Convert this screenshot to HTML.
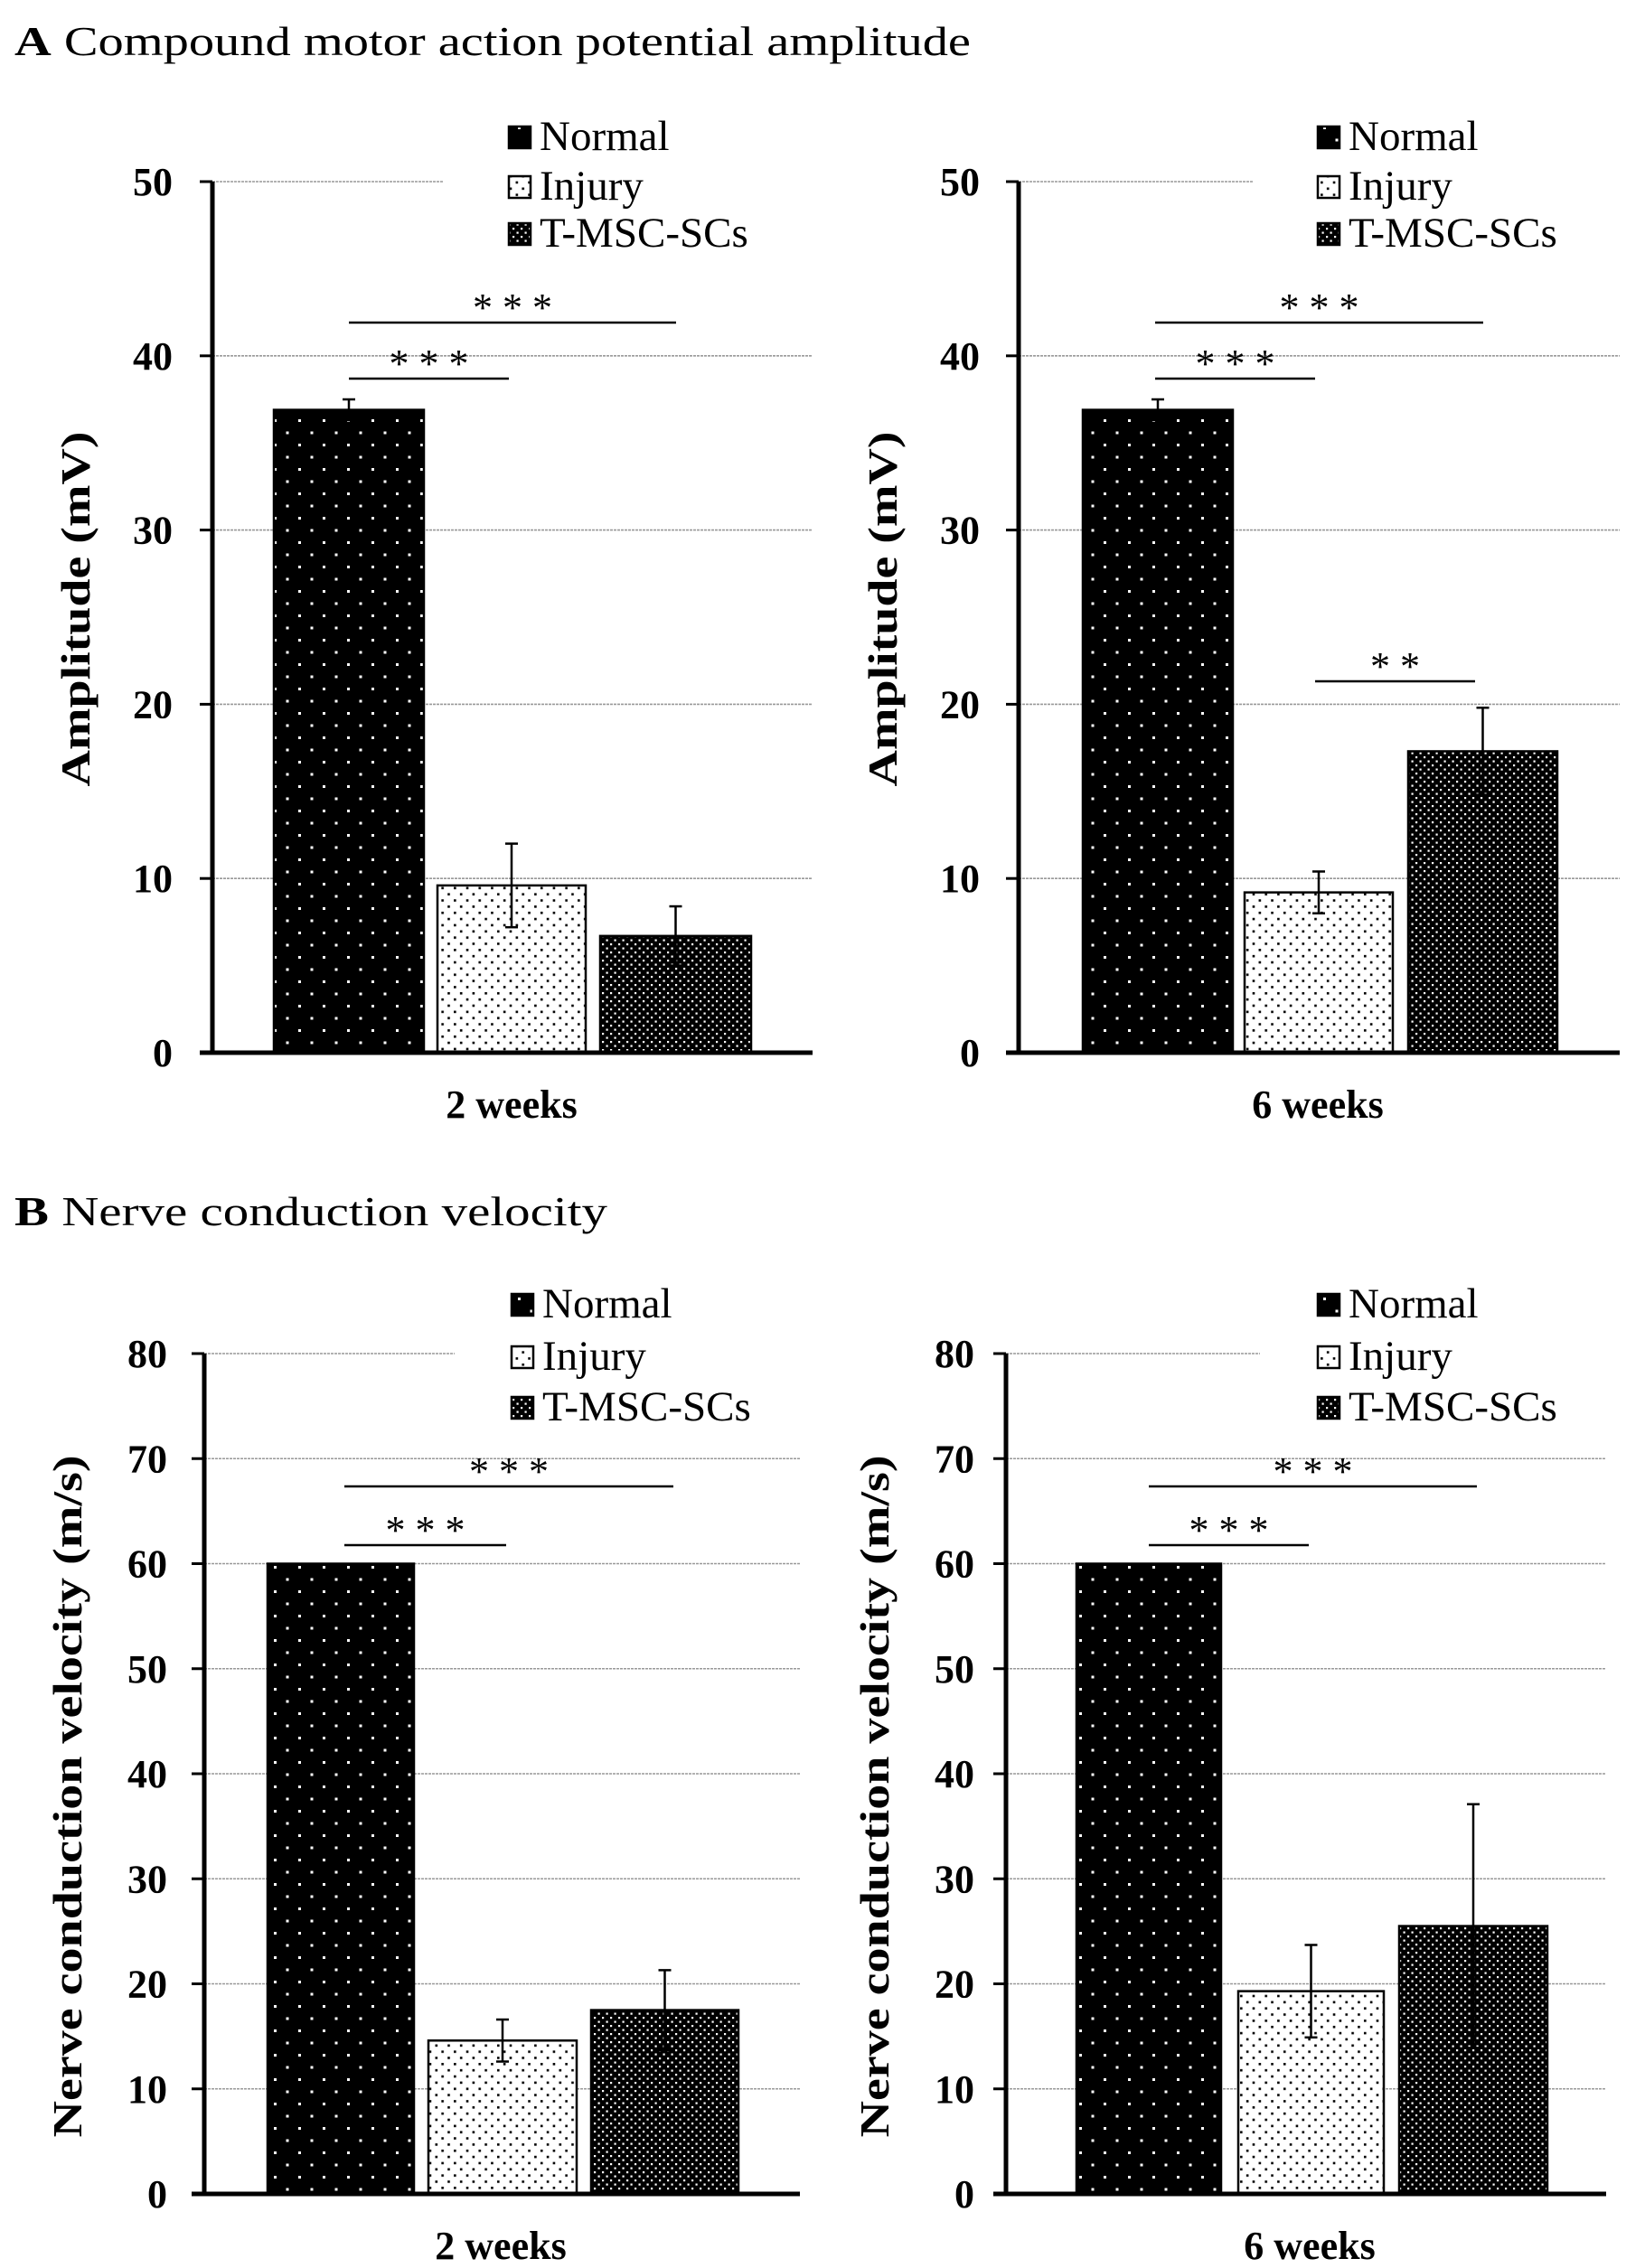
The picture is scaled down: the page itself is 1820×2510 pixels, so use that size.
<!DOCTYPE html>
<html><head><meta charset="utf-8"><style>
html,body{margin:0;padding:0;background:#fff;}
svg{display:block;}
text{font-family:"Liberation Serif","Times New Roman",Times,serif;fill:#000;}
</style></head><body>
<svg id="fig" width="1820" height="2510" viewBox="0 0 1820 2510" xmlns="http://www.w3.org/2000/svg">
<defs>
<pattern id="pNormal" width="27" height="27" patternUnits="userSpaceOnUse"><rect width="27" height="27" fill="#000"/><rect x="6" y="5" width="3" height="3" fill="#fff"/><rect x="19.5" y="18.5" width="3" height="3" fill="#fff"/></pattern>
<pattern id="pInjury" width="13.7" height="13.7" patternUnits="userSpaceOnUse"><rect width="13.7" height="13.7" fill="#fff"/><rect x="2" y="2" width="2.6" height="2.6" fill="#000"/><rect x="8.85" y="8.85" width="2.6" height="2.6" fill="#000"/></pattern>
<pattern id="pTmsc" width="9" height="9" patternUnits="userSpaceOnUse"><rect width="9" height="9" fill="#000"/><rect x="0" y="0" width="2.2" height="2.2" fill="#fff"/><rect x="4.5" y="4.5" width="2.2" height="2.2" fill="#fff"/></pattern>
</defs>
<text x="16" y="61" font-size="46" font-family="Liberation Serif, Times New Roman, serif" textLength="1058" lengthAdjust="spacingAndGlyphs"><tspan font-weight="bold">A</tspan>  Compound motor action potential amplitude</text>
<text x="16" y="1356" font-size="46" font-family="Liberation Serif, Times New Roman, serif" textLength="656" lengthAdjust="spacingAndGlyphs"><tspan font-weight="bold">B</tspan>  Nerve conduction velocity</text>
</svg>
<script>
const groups = ["Normal", "Injury", "T-MSC-SCs"];
const ampTicks = [0, 10, 20, 30, 40, 50];
const ncvTicks = [0, 10, 20, 30, 40, 50, 60, 70, 80];
const amp2wMeans = [36.9, 9.6, 6.7];
const amp2wErrs = [0.6, 2.4, 1.7];
const amp6wMeans = [36.9, 9.2, 17.3];
const amp6wErrs = [0.6, 1.2, 2.5];
const ncv2wMeans = [60.0, 14.6, 17.5];
const ncv2wErrs = [0, 2.0, 3.8];
const ncv6wMeans = [60.0, 19.3, 25.5];
const ncv6wErrs = [0, 4.4, 11.6];
const amp2wSig = [[0, 1, "* * *"], [0, 2, "* * *"]];
const amp6wSig = [[0, 1, "* * *"], [0, 2, "* * *"], [1, 2, "* *"]];
const ncv2wSig = [[0, 1, "* * *"], [0, 2, "* * *"]];
const ncv6wSig = [[0, 1, "* * *"], [0, 2, "* * *"]];

const NS = "http://www.w3.org/2000/svg";
const FONT = "Liberation Serif, Times New Roman, serif";
const svg = document.getElementById('fig');
const fills = ["url(#pNormal)", "url(#pInjury)", "url(#pTmsc)"];
function mk(tag, attrs, parent, txt) {
  const e = document.createElementNS(NS, tag);
  for (const k in attrs) e.setAttribute(k, attrs[k]);
  if (tag === 'text') e.setAttribute('font-family', FONT);
  if (txt !== undefined) e.textContent = txt;
  parent.appendChild(e);
  return e;
}
function chart(c, means, errs, ticks, sig) {
  const g = mk('g', {}, svg);
  
  
  const max = ticks[ticks.length - 1];
  const y = v => c.y0 - (v / max) * (c.y0 - c.yTop);
  ticks.forEach((t, i) => {
    if (t === 0) return;
    const end = (i === ticks.length - 1) ? c.topGridEnd : c.xEnd;
    const l = mk('line', {x1: c.ax, x2: end, y1: y(t), y2: y(t), stroke: '#999', 'stroke-width': 1.6, 'stroke-dasharray': '3 1'}, g);
    
    
  });
  means.forEach((m, i) => {
    const r = mk('rect', {x: c.bars[i][0], y: y(m), width: c.bars[i][1] - c.bars[i][0], height: c.y0 - y(m), fill: fills[i], stroke: '#000', 'stroke-width': 2.5}, g);
    
    
    if (errs[i] > 0) {
      const cx = (c.bars[i][0] + c.bars[i][1]) / 2;
      const eg = mk('g', {stroke: '#000', 'stroke-width': 2.5}, g);
      
      
      mk('line', {x1: cx, x2: cx, y1: y(m + errs[i]), y2: y(m - errs[i])}, eg);
      mk('line', {x1: cx - 7, x2: cx + 7, y1: y(m + errs[i]), y2: y(m + errs[i])}, eg);
      mk('line', {x1: cx - 7, x2: cx + 7, y1: y(m - errs[i]), y2: y(m - errs[i])}, eg);
    }
  });
  const ya = mk('line', {x1: c.ax, x2: c.ax, y1: c.yTop, y2: c.y0 + 2, stroke: '#000', 'stroke-width': 5}, g);
  
  
  const xa = mk('line', {x1: c.ax - 14, x2: c.xEnd, y1: c.y0, y2: c.y0, stroke: '#000', 'stroke-width': 5}, g);
  
  
  ticks.forEach(t => {
    const tk = mk('line', {x1: c.ax - 14, x2: c.ax, y1: y(t), y2: y(t), stroke: '#000', 'stroke-width': 3}, g);
    
    
    const tl = mk('text', {x: c.tickRight, y: y(t) + 15, 'text-anchor': 'end', 'font-size': 44, 'font-weight': 'bold'}, g, String(t));
    
    
  });
  const yt = mk('text', {x: 0, y: 0, transform: `translate(${c.titleX + 15},${c.titleCy}) rotate(-90)`, 'text-anchor': 'middle', 'font-size': 46, 'font-weight': 'bold', textLength: c.titleLen, lengthAdjust: 'spacingAndGlyphs'}, g, c.yTitle);
  
  
  const xt = mk('text', {x: c.xLabelX, y: c.xLabelY + 15, 'text-anchor': 'middle', 'font-size': 44, 'font-weight': 'bold'}, g, c.xLabel);
  
  
  groups.forEach((nm, i) => {
    const ly = c.legY[i];
    const lg = mk('g', {}, g);
    
    
    mk('rect', {x: c.legX, y: ly - 26, width: 24, height: 24, fill: fills[i], stroke: '#000', 'stroke-width': 2.5}, lg);
    mk('text', {x: c.legX + 34, y: ly, 'font-size': 47}, lg, nm);
  });
  sig.forEach(s => {
    const key = s[0] + '' + s[1];
    const sy = c.sigY[key];
    const x1 = c.sigX[key][0], x2 = c.sigX[key][1];
    const sg = mk('g', {}, g);
    
    
    mk('line', {x1: x1, x2: x2, y1: sy, y2: sy, stroke: '#000', 'stroke-width': 2.5}, sg);
    mk('text', {x: (x1 + x2) / 2, y: sy - 2, 'text-anchor': 'middle', 'font-size': 44}, sg, s[2]);
  });
}
const ampCommon = {yTop: 201, y0: 1165, xLabelY: 1222, legY: [166, 221, 273], yTitle: 'Amplitude (mV)', titleLen: 393, titleCy: 674};
const ncvCommon = {yTop: 1498, y0: 2428, xLabelY: 2485, legY: [1458, 1516, 1572], yTitle: 'Nerve conduction velocity (m/s)', titleLen: 755, titleCy: 1988};
chart(Object.assign({}, ampCommon, {name: 'chart-amplitude-2-weeks', ax: 235, xEnd: 899, topGridEnd: 490, bars: [[303, 469], [484, 648], [664, 831]], tickRight: 191, titleX: 84, xLabelX: 566, xLabel: '2 weeks', legX: 563, sigY: {'01': 419, '02': 357}, sigX: {'01': [386, 563], '02': [386, 748]}}), amp2wMeans, amp2wErrs, ampTicks, amp2wSig);
chart(Object.assign({}, ampCommon, {name: 'chart-amplitude-6-weeks', ax: 1127, xEnd: 1792, topGridEnd: 1386, bars: [[1198, 1364], [1377, 1541], [1558, 1723]], tickRight: 1084, titleX: 977, xLabelX: 1458, xLabel: '6 weeks', legX: 1458, sigY: {'01': 419, '02': 357, '12': 754}, sigX: {'01': [1278, 1455], '02': [1278, 1641], '12': [1455, 1632]}}), amp6wMeans, amp6wErrs, ampTicks, amp6wSig);
chart(Object.assign({}, ncvCommon, {name: 'chart-velocity-2-weeks', ax: 226, xEnd: 885, topGridEnd: 503, bars: [[296, 458], [474, 638], [654, 817]], tickRight: 185, titleX: 75, xLabelX: 554, xLabel: '2 weeks', legX: 566, sigY: {'01': 1710, '02': 1645}, sigX: {'01': [381, 560], '02': [381, 745]}}), ncv2wMeans, ncv2wErrs, ncvTicks, ncv2wSig);
chart(Object.assign({}, ncvCommon, {name: 'chart-velocity-6-weeks', ax: 1113, xEnd: 1777, topGridEnd: 1394, bars: [[1191, 1351], [1370, 1531], [1548, 1712]], tickRight: 1078, titleX: 968, xLabelX: 1449, xLabel: '6 weeks', legX: 1458, sigY: {'01': 1710, '02': 1645}, sigX: {'01': [1271, 1448], '02': [1271, 1634]}}), ncv6wMeans, ncv6wErrs, ncvTicks, ncv6wSig);
</script>
</body></html>
